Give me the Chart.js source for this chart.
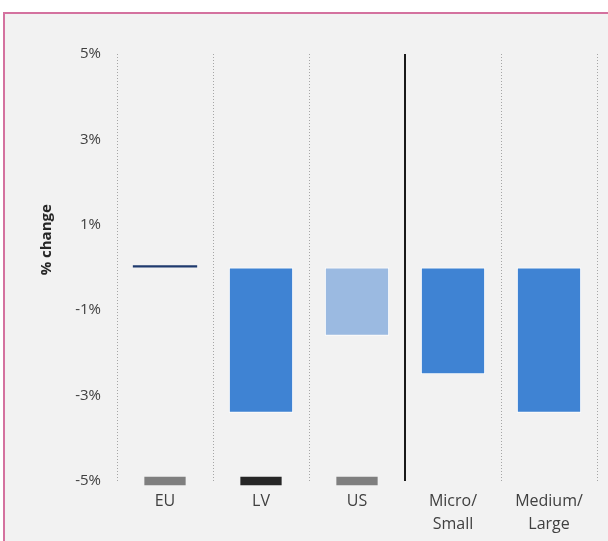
<!DOCTYPE html>
<html>
<head>
<meta charset="utf-8">
<script src="https://cdn.jsdelivr.net/npm/chart.js@4/dist/chart.umd.min.js"></script>
<style>
  html, body { margin: 0; padding: 0; background: #ffffff; overflow: hidden; }
  #frame {
    position: absolute; left: 3px; top: 12px; width: 640px; height: 560px;
    background: #f2f2f2; border: 2px solid #d4729f;
  }
  #wrap { position: absolute; left: 0; top: 0; width: 608px; height: 541px; }
</style>
</head>
<body>
<div id="frame"></div>
<div id="wrap"><canvas id="changechart" width="608" height="541"></canvas></div>
<script>
const categories = ["EU", "LV", "US", ["Micro/", "Small"], ["Medium/", "Large"]];
const changeValues = [0.05, -3.4, -1.6, -2.5, -3.4];
const barColors = ["#1f3a6e", "#3f83d3", "#9bbae1", "#3f83d3", "#3f83d3"];
const markerValues = [[-5.1, -4.9], [-5.1, -4.9], [-5.1, -4.9], null, null];
const markerColors = ["#7f7f7f", "#262626", "#7f7f7f", "#7f7f7f", "#7f7f7f"];
const yTicks = [-5, -3, -1, 1, 3, 5];
const axisTitle = "% change";

const FONT = "'Open Sans', 'Noto Sans', sans-serif";

// solid divider between the country group and the size group, plus the axis title
const extras = {
  id: "extras",
  afterDatasetsDraw(chart) {
    const ctx = chart.ctx;
    const x = chart.scales.x;
    const area = chart.chartArea;
    const xs = (x.getPixelForValue(2) + x.getPixelForValue(3)) / 2;
    ctx.save();
    ctx.strokeStyle = "#1a1a1a";
    ctx.lineWidth = 2;
    ctx.beginPath();
    ctx.moveTo(xs, area.top);
    ctx.lineTo(xs, area.bottom);
    ctx.stroke();

    ctx.translate(47, area.top + area.height * 0.435);
    ctx.rotate(-Math.PI / 2);
    ctx.fillStyle = "#262626";
    ctx.font = "bold 15px " + FONT;
    ctx.textAlign = "center";
    ctx.textBaseline = "middle";
    ctx.fillText(axisTitle, 0, 0);
    ctx.restore();
  },
};

new Chart(document.getElementById("changechart"), {
  type: "bar",
  data: {
    labels: categories,
    datasets: [
      {
        data: changeValues,
        backgroundColor: barColors,
        borderColor: "#ffffff",
        borderWidth: [0, 1, 1, 1, 1],
        borderSkipped: false,
        barPercentage: 0.67,
        categoryPercentage: 1,
        grouped: false,
        order: 1,
      },
      {
        data: markerValues,
        backgroundColor: markerColors,
        borderWidth: 0,
        barPercentage: 0.43,
        categoryPercentage: 1,
        grouped: false,
        clip: false,
        order: 0,
      },
    ],
  },
  options: {
    responsive: false,
    animation: false,
    layout: { padding: { top: 54, right: 11, bottom: 0, left: 0 } },
    plugins: { legend: { display: false }, tooltip: { enabled: false } },
    scales: {
      x: {
        grid: {
          offset: true,
          color: "#a6a6a6",
          lineWidth: 1,
          drawTicks: false,
        },
        border: { display: false, dash: [1, 2] },
        ticks: {
          color: "#404040",
          font: { family: FONT, size: 16, lineHeight: 1.45 },
          padding: 9,
          maxRotation: 0,
        },
        afterFit(scale) {
          scale.height = 60;
        },
      },
      y: {
        min: -5,
        max: 5,
        afterBuildTicks(scale) {
          scale.ticks = yTicks.map((v) => ({ value: v }));
        },
        grid: { display: false },
        border: { display: false },
        ticks: {
          color: "#404040",
          font: { family: FONT, size: 15 },
          padding: 8,
          callback: (v) => v + "%",
        },
        afterFit(scale) {
          scale.width = 117;
        },
      },
    },
  },
  plugins: [extras],
});
</script>
</body>
</html>
